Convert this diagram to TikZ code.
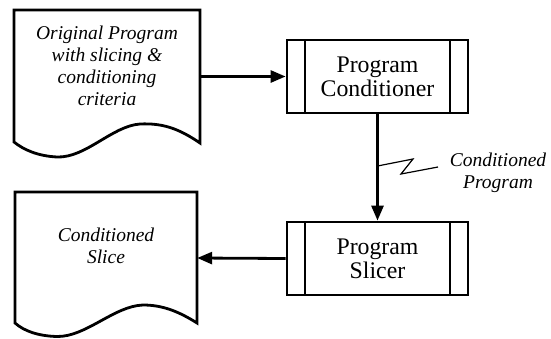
\documentclass[tikz,border=0pt]{standalone}
\usepackage{fontspec}
\setmainfont{Liberation Serif}
\usetikzlibrary{arrows.meta,calc}
\begin{document}
\begin{tikzpicture}[x=1pt,y=-1pt,
  edge/.style={line width=2.8pt},
  conn/.style={line width=2.8pt,-{Triangle[length=15pt,width=12pt]}},
  procbox/.style={draw,line width=2.8pt,minimum width=181pt,minimum height=73pt,inner sep=0pt,
     align=center,font=\fontsize{23.8}{24}\selectfont,
     path picture={\draw[line width=2.8pt]
       ([xshift=18pt]path picture bounding box.north west) -- ([xshift=18pt]path picture bounding box.south west)
       ([xshift=-18pt]path picture bounding box.north east) -- ([xshift=-18pt]path picture bounding box.south east);}},
  doctext/.style={align=center,font=\itshape\fontsize{19.5}{22}\selectfont,inner sep=0pt},
  zig/.style={line width=1.2pt}
]
\useasboundingbox (0,0) rectangle (551,338);

% document 1
\draw[edge,line join=miter] (14,10) -- (200,10) -- (200,143)
  .. controls (178,128) and (162,123) .. (140,124)
  .. controls (112,126) and (86,158) .. (57,157)
  .. controls (38,156) and (24,150) .. (14,142) -- cycle;
\node[minimum width=186pt,minimum height=133pt,inner sep=0pt] (doc1) at (107,76.5) {};
\node[doctext] (doc1t) at (107,66) {Original Program\\with slicing \&\\conditioning\\criteria};

% document 2
\draw[edge,line join=miter] (15,192) -- (197,192) -- (197,323)
  .. controls (178,311) and (162,305) .. (143,305)
  .. controls (114,306) and (86,337) .. (57,336.5)
  .. controls (38,336) and (24,331) .. (15,323) -- cycle;
\node[minimum width=182pt,minimum height=133pt,inner sep=0pt] (doc2) at (106,258) {};
\node[doctext] (doc2t) at (106,246) {Conditioned\\Slice};

% process boxes
\node[procbox] (cond) at (377.5,76.5) {Program\\Conditioner};
\node[procbox] (slicer) at (377.5,258.5) {Program\\Slicer};

% connectors
\draw[conn] (doc1.east) -- (cond.west);
\draw[conn] (cond.south) -- (slicer.north);
\draw[conn] (slicer.west) -- (doc2.east);

% label with zigzag
\node[doctext] (lbl) at (498,173) {Conditioned\\Program};
\coordinate (z0) at (377.5,166);
\coordinate (z1) at (413,159);
\coordinate (z2) at (401,174);
\coordinate (z3) at (438,167);
\draw[zig,line join=miter] (z0) -- (z1) -- (z2) -- (z3);
\end{tikzpicture}
\end{document}
